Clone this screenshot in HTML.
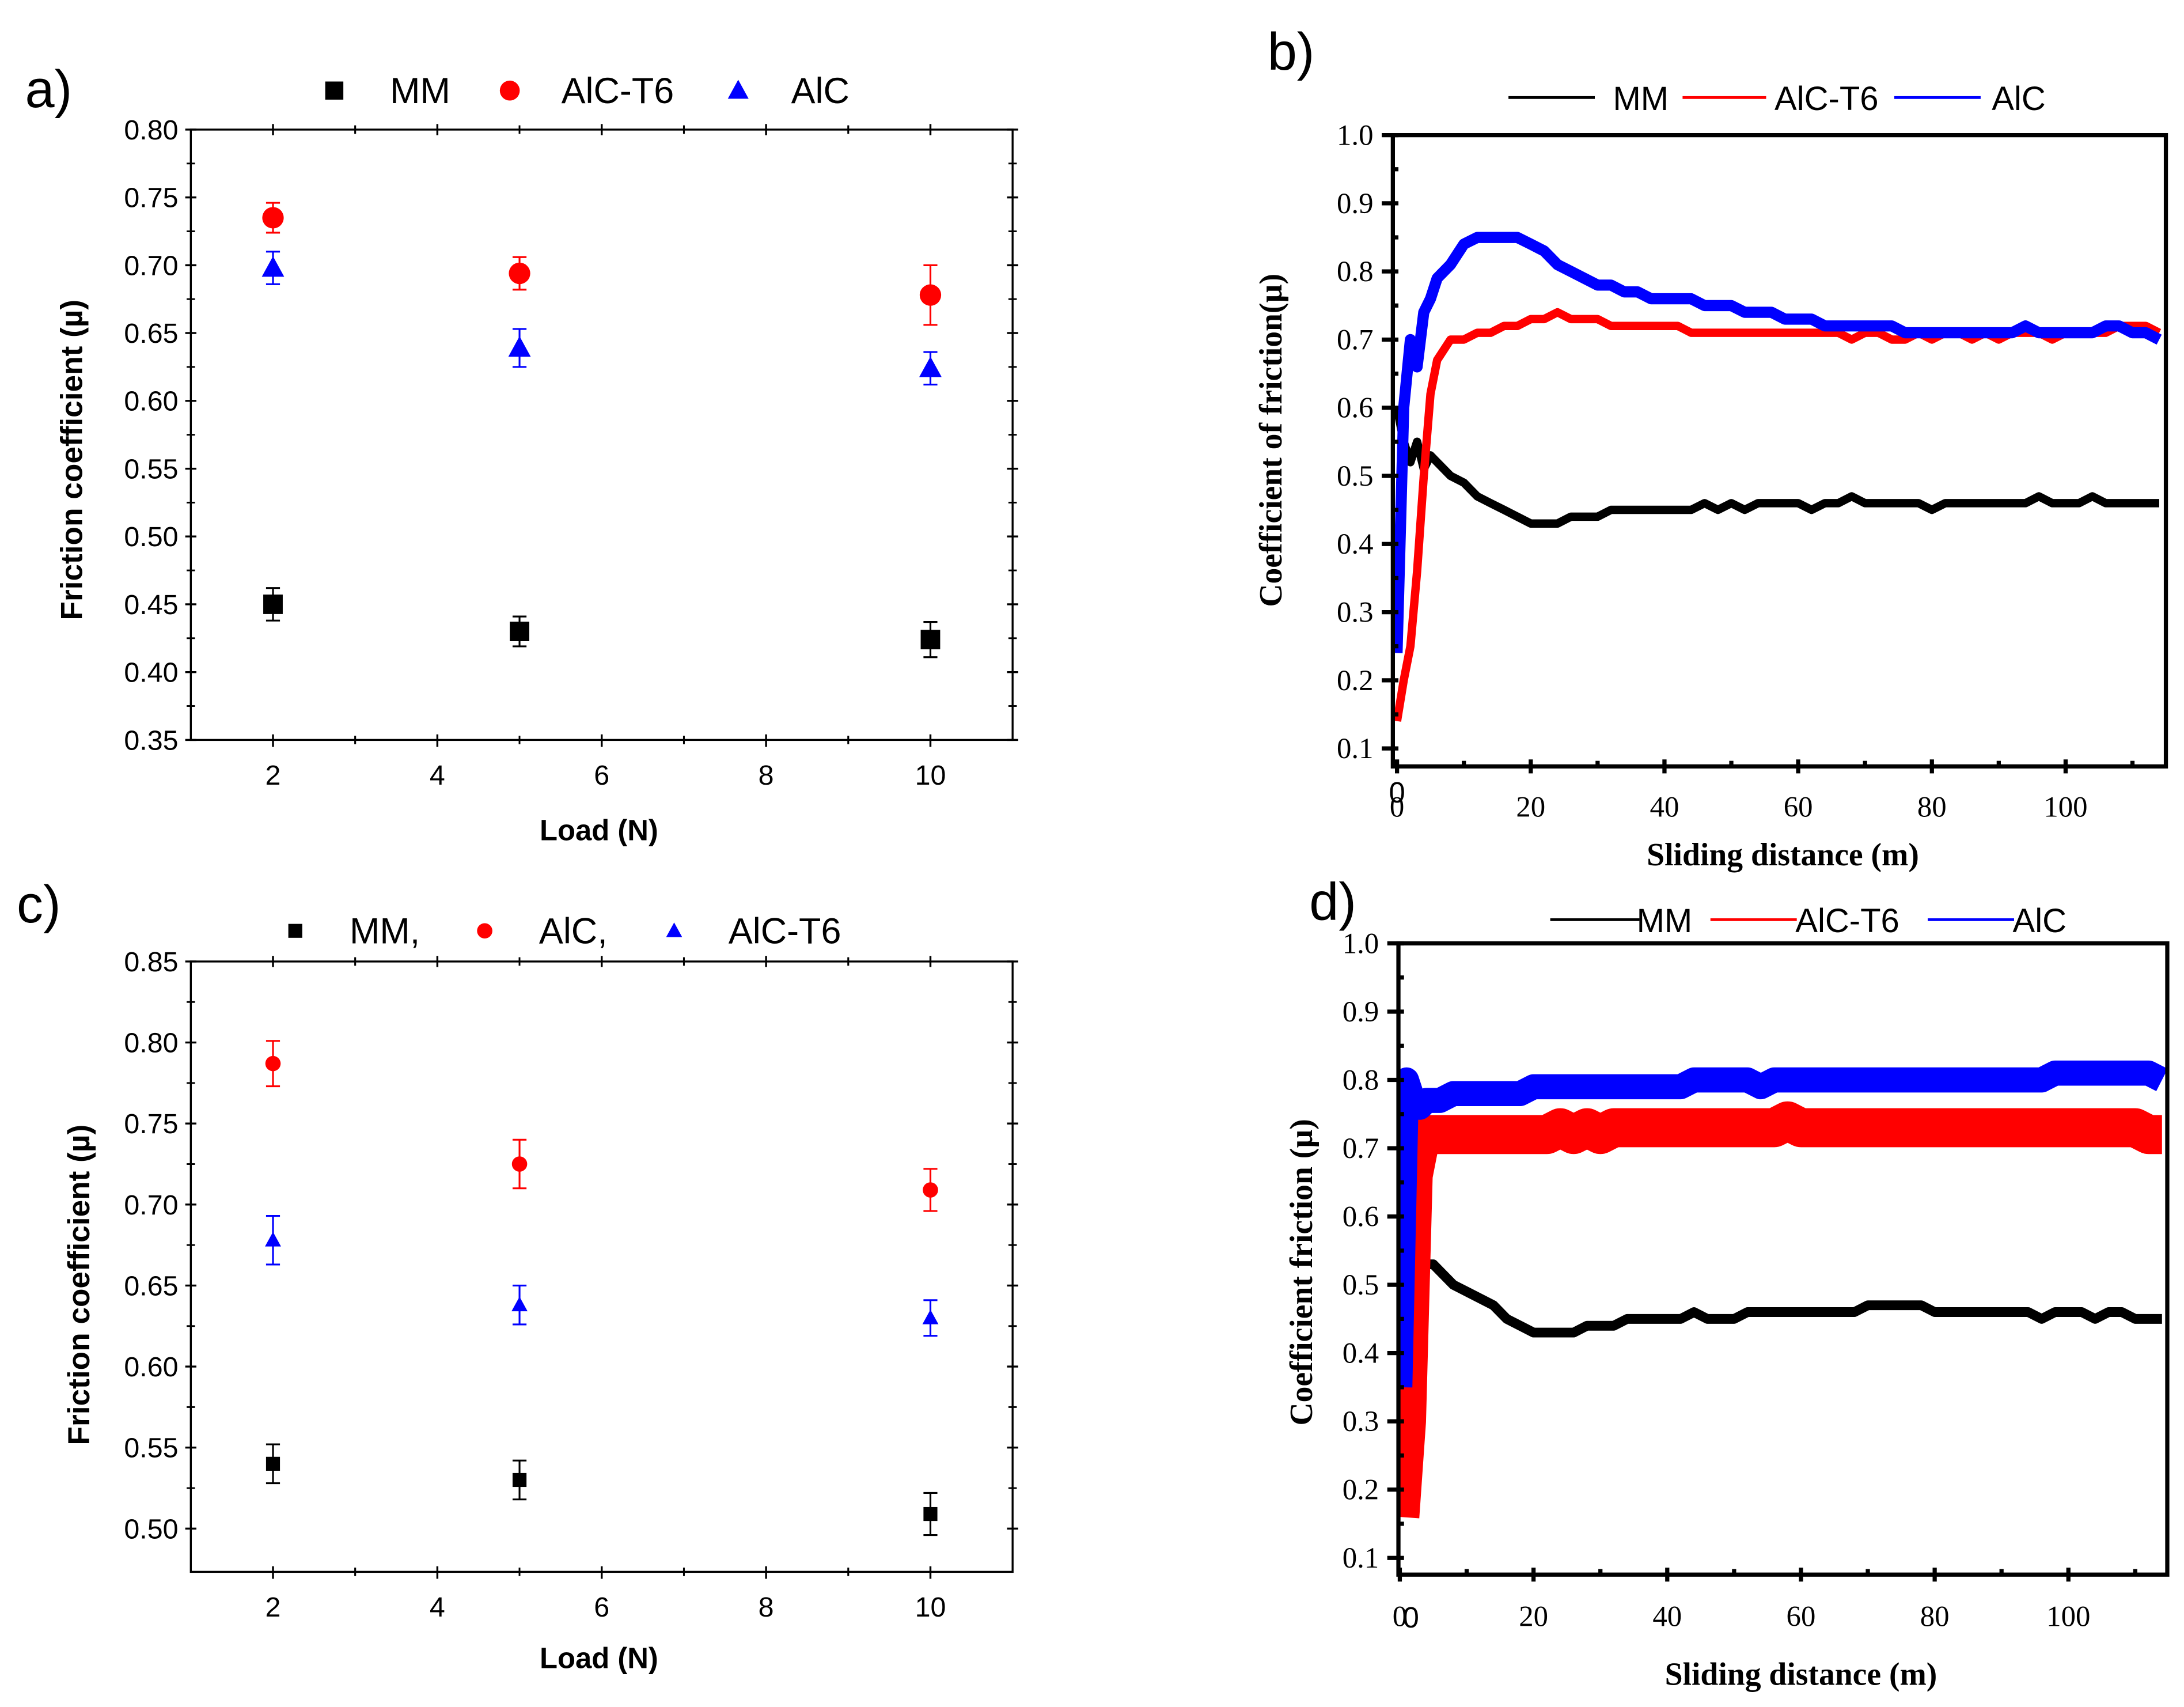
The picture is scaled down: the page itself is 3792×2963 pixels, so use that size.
<!DOCTYPE html>
<html><head><meta charset="utf-8"><style>
html,body{margin:0;padding:0;background:#fff;}
svg{display:block;}
.sans{font-family:"Liberation Sans",sans-serif;}
.serif{font-family:"Liberation Serif",serif;}
</style></head><body>
<svg id="fig" xmlns="http://www.w3.org/2000/svg" width="3792" height="2963" viewBox="0 0 1568 1225" preserveAspectRatio="none">
<rect x="0" y="0" width="1568" height="1225" fill="#fff"/>
</svg>
<script>
// ---- data panel a ----
const aLoads = [2, 5, 10];
const aMM = [0.450, 0.430, 0.424];
const aMMerr = [0.012, 0.011, 0.013];
const aT6 = [0.735, 0.694, 0.678];
const aT6err = [0.011, 0.012, 0.022];
const aAlC = [0.698, 0.639, 0.624];
const aAlCerr = [0.012, 0.014, 0.012];
const aYTicks = ["0.35","0.40","0.45","0.50","0.55","0.60","0.65","0.70","0.75","0.80"];
const abXTicks = ["2","4","6","8","10"];
// ---- data panel c ----
const cLoads = [2, 5, 10];
const cMM = [0.540, 0.530, 0.509];
const cMMerr = [0.012, 0.012, 0.013];
const cAlC = [0.787, 0.725, 0.709];
const cAlCerr = [0.014, 0.015, 0.013];
const cT6 = [0.678, 0.638, 0.630];
const cT6err = [0.015, 0.012, 0.011];
const cYTicks = ["0.50","0.55","0.60","0.65","0.70","0.75","0.80","0.85"];
// ---- data panels b,d ----
const dist = [0,1,2,3,4,5,6,8,10,12,14,16,18,20,22,24,26,28,30,32,34,36,38,40,42,44,46,48,50,52,54,56,58,60,62,64,66,68,70,72,74,76,78,80,82,84,86,88,90,92,94,96,98,100,102,104,106,108,110,112,114];
const bMM = [0.60,0.55,0.52,0.55,0.51,0.53,0.52,0.50,0.49,0.47,0.46,0.45,0.44,0.43,0.43,0.43,0.44,0.44,0.44,0.45,0.45,0.45,0.45,0.45,0.45,0.45,0.46,0.45,0.46,0.45,0.46,0.46,0.46,0.46,0.45,0.46,0.46,0.47,0.46,0.46,0.46,0.46,0.46,0.45,0.46,0.46,0.46,0.46,0.46,0.46,0.46,0.47,0.46,0.46,0.46,0.47,0.46,0.46,0.46,0.46,0.46];
const bT6 = [0.14,0.20,0.25,0.36,0.50,0.62,0.67,0.70,0.70,0.71,0.71,0.72,0.72,0.73,0.73,0.74,0.73,0.73,0.73,0.72,0.72,0.72,0.72,0.72,0.72,0.71,0.71,0.71,0.71,0.71,0.71,0.71,0.71,0.71,0.71,0.71,0.71,0.70,0.71,0.71,0.70,0.70,0.71,0.70,0.71,0.71,0.70,0.71,0.70,0.71,0.71,0.71,0.70,0.71,0.71,0.71,0.71,0.72,0.72,0.72,0.71];
const bAlC = [0.24,0.60,0.70,0.66,0.74,0.76,0.79,0.81,0.84,0.85,0.85,0.85,0.85,0.84,0.83,0.81,0.80,0.79,0.78,0.78,0.77,0.77,0.76,0.76,0.76,0.76,0.75,0.75,0.75,0.74,0.74,0.74,0.73,0.73,0.73,0.72,0.72,0.72,0.72,0.72,0.72,0.71,0.71,0.71,0.71,0.71,0.71,0.71,0.71,0.71,0.72,0.71,0.71,0.71,0.71,0.71,0.72,0.72,0.71,0.71,0.70];
const dMM = [0.60,0.56,0.55,0.54,0.53,0.53,0.52,0.50,0.49,0.48,0.47,0.45,0.44,0.43,0.43,0.43,0.43,0.44,0.44,0.44,0.45,0.45,0.45,0.45,0.45,0.46,0.45,0.45,0.45,0.46,0.46,0.46,0.46,0.46,0.46,0.46,0.46,0.46,0.47,0.47,0.47,0.47,0.47,0.46,0.46,0.46,0.46,0.46,0.46,0.46,0.46,0.45,0.46,0.46,0.46,0.45,0.46,0.46,0.45,0.45,0.45];
const dT6 = [0.16,0.30,0.66,0.71,0.72,0.72,0.72,0.72,0.72,0.72,0.72,0.72,0.72,0.72,0.72,0.73,0.72,0.73,0.72,0.73,0.73,0.73,0.73,0.73,0.73,0.73,0.73,0.73,0.73,0.73,0.73,0.73,0.74,0.73,0.73,0.73,0.73,0.73,0.73,0.73,0.73,0.73,0.73,0.73,0.73,0.73,0.73,0.73,0.73,0.73,0.73,0.73,0.73,0.73,0.73,0.73,0.73,0.73,0.73,0.72,0.72];
const dAlC = [0.35,0.80,0.77,0.76,0.77,0.77,0.77,0.78,0.78,0.78,0.78,0.78,0.78,0.79,0.79,0.79,0.79,0.79,0.79,0.79,0.79,0.79,0.79,0.79,0.79,0.80,0.80,0.80,0.80,0.80,0.79,0.80,0.80,0.80,0.80,0.80,0.80,0.80,0.80,0.80,0.80,0.80,0.80,0.80,0.80,0.80,0.80,0.80,0.80,0.80,0.80,0.80,0.81,0.81,0.81,0.81,0.81,0.81,0.81,0.81,0.80];
const bdYTicks = ["0.1","0.2","0.3","0.4","0.5","0.6","0.7","0.8","0.9","1.0"];
const bdXTicks = ["0","20","40","60","80","100"];

const NS = "http://www.w3.org/2000/svg";
const svg = document.getElementById('fig');
function mk(tag, attrs, parent){
  const e = document.createElementNS(NS, tag);
  for (const k in attrs) e.setAttribute(k, attrs[k]);
  (parent||svg).appendChild(e);
  return e;
}
function txt(s, x, y, size, cls, anchor, weight, parent){
  const t = mk('text', {x:x, y:y, 'font-size':size, 'class':cls, 'text-anchor':anchor||'middle', 'font-weight':weight||'normal'}, parent);
  t.textContent = s;
  return t;
}

// ================= scatter panels (a, c) =================
function scatterPanel(cfg){
  const g = mk('g', {});
  
  
  const xs = v => cfg.x0 + (v - cfg.xmin) / (cfg.xmax - cfg.xmin) * (cfg.x1 - cfg.x0);
  const ys = v => cfg.y1 - (v - cfg.ymin) / (cfg.ymax - cfg.ymin) * (cfg.y1 - cfg.y0);
  const frame = mk('rect', {x:cfg.x0, y:cfg.y0, width:cfg.x1-cfg.x0, height:cfg.y1-cfg.y0, fill:'none', stroke:'#000', 'stroke-width':1.4}, g);
  
  
  cfg.yTicks.forEach(lbl => {
    const v = parseFloat(lbl); const y = ys(v);
    mk('line', {x1:cfg.x0-4, x2:cfg.x0+4, y1:y, y2:y, stroke:'#000', 'stroke-width':1.4}, g);
    mk('line', {x1:cfg.x1-4, x2:cfg.x1+4, y1:y, y2:y, stroke:'#000', 'stroke-width':1.4}, g);
    const m = ys(v + 0.025);
    if (m > cfg.y0 + 1) {
      mk('line', {x1:cfg.x0-3, x2:cfg.x0+3, y1:m, y2:m, stroke:'#000', 'stroke-width':1.2}, g);
      mk('line', {x1:cfg.x1-3, x2:cfg.x1+3, y1:m, y2:m, stroke:'#000', 'stroke-width':1.2}, g);
    }
    const t = txt(lbl, cfg.x0-9, y+7, 20, 'sans', 'end', 'normal', g);
    
    
  });
  abXTicks.forEach(lbl => {
    const v = parseFloat(lbl); const x = xs(v);
    mk('line', {x1:x, x2:x, y1:cfg.y1-4, y2:cfg.y1+5, stroke:'#000', 'stroke-width':1.4}, g);
    mk('line', {x1:x, x2:x, y1:cfg.y0-4, y2:cfg.y0+4, stroke:'#000', 'stroke-width':1.4}, g);
    [v-1, v+1].forEach(mv => { if (mv > cfg.xmin && mv < cfg.xmax) {
      const mx = xs(mv);
      mk('line', {x1:mx, x2:mx, y1:cfg.y1-3, y2:cfg.y1+3, stroke:'#000', 'stroke-width':1.2}, g);
      mk('line', {x1:mx, x2:mx, y1:cfg.y0-3, y2:cfg.y0+3, stroke:'#000', 'stroke-width':1.2}, g);
    }});
    const t = txt(lbl, x, cfg.y1+32, 20, 'sans', 'middle', 'normal', g);
    
    
  });
  const xt = txt('Load (N)', (cfg.x0+cfg.x1)/2 - 2, cfg.xLabelY, 21, 'sans', 'middle', 'bold', g);
  
  
  const yt = txt('Friction coefficient (\u00b5)', 0, 0, 22, 'sans', 'middle', 'bold', g);
  yt.setAttribute('transform', 'translate(' + cfg.yLabelX + ',' + cfg.yLabelY + ') rotate(-90)');
  
  
  cfg.series.forEach(s => {
    const sg = mk('g', {}, g);
    
    
    cfg.loads.forEach((L, i) => {
      const x = xs(L), y = ys(s.vals[i]), e1 = ys(s.vals[i]+s.err[i]), e2 = ys(s.vals[i]-s.err[i]);
      mk('line', {x1:x, x2:x, y1:e1, y2:e2, stroke:s.color, 'stroke-width':1.3}, sg);
      mk('line', {x1:x-5, x2:x+5, y1:e1, y2:e1, stroke:s.color, 'stroke-width':1.3}, sg);
      mk('line', {x1:x-5, x2:x+5, y1:e2, y2:e2, stroke:s.color, 'stroke-width':1.3}, sg);
      const r = cfg.mr;
      let m;
      if (s.shape === 'sq') m = mk('rect', {x:x-r, y:y-r, width:2*r, height:2*r}, sg);
      else if (s.shape === 'ci') m = mk('circle', {cx:x, cy:y, r:r*1.1}, sg);
      else m = mk('polygon', {points:(x)+','+(y-r*1.2)+' '+(x-r*1.15)+','+(y+r*0.9)+' '+(x+r*1.15)+','+(y+r*0.9)}, sg);
      m.setAttribute('fill', s.color);
      
      
    });
  });
  const lg = mk('g', {}, g);
  
  
  cfg.legend.forEach(it => {
    const r = cfg.lr, x = it.mx, y = cfg.legY;
    let m;
    if (it.shape === 'sq') m = mk('rect', {x:x-r, y:y-r, width:2*r, height:2*r}, lg);
    else if (it.shape === 'ci') m = mk('circle', {cx:x, cy:y, r:r*1.1}, lg);
    else m = mk('polygon', {points:x+','+(y-r*1.2)+' '+(x-r*1.15)+','+(y+r*0.9)+' '+(x+r*1.15)+','+(y+r*0.9)}, lg);
    m.setAttribute('fill', it.color);
    
    
    const t = txt(it.label, it.tx, y+9, 26, 'sans', 'start', 'normal', lg);
    
    
  });
}

scatterPanel({name:'panel-a', x0:137, x1:727, y0:93, y1:531, xmin:1, xmax:11, ymin:0.35, ymax:0.80,
  yTicks:aYTicks, loads:aLoads, xLabelY:603, yLabelX:59, yLabelY:330, mr:7, lr:6.5, legY:65,
  series:[{name:'series-mm', vals:aMM, err:aMMerr, color:'#000', shape:'sq'},
          {name:'series-alc-t6', vals:aT6, err:aT6err, color:'#f00', shape:'ci'},
          {name:'series-alc', vals:aAlC, err:aAlCerr, color:'#00f', shape:'tr'}],
  legend:[{mx:240, tx:280, label:'MM', color:'#000', shape:'sq'},
          {mx:366, tx:403, label:'AlC-T6', color:'#f00', shape:'ci'},
          {mx:530, tx:568, label:'AlC', color:'#00f', shape:'tr'}]});

scatterPanel({name:'panel-c', x0:137, x1:727, y0:690, y1:1128, xmin:1, xmax:11, ymin:0.50-31/58.1*0.05, ymax:0.85,
  yTicks:cYTicks, loads:cLoads, xLabelY:1197, yLabelX:64, yLabelY:922, mr:5, lr:5, legY:668,
  series:[{name:'series-mm', vals:cMM, err:cMMerr, color:'#000', shape:'sq'},
          {name:'series-alc', vals:cAlC, err:cAlCerr, color:'#f00', shape:'ci'},
          {name:'series-alc-t6', vals:cT6, err:cT6err, color:'#00f', shape:'tr'}],
  legend:[{mx:212, tx:251, label:'MM,', color:'#000', shape:'sq'},
          {mx:348, tx:387, label:'AlC,', color:'#f00', shape:'ci'},
          {mx:484, tx:523, label:'AlC-T6', color:'#00f', shape:'tr'}]});

// ================= line panels (b, d) =================
function linePanel(cfg){
  const g = mk('g', {});
  
  
  const xs = v => cfg.xz + v * cfg.xper;
  const ys = v => cfg.yone + (1.0 - v) / 0.1 * cfg.yper;
  const clip = mk('clipPath', {id:cfg.name+'-clip'}, g);
  mk('rect', {x:cfg.x0, y:cfg.y0, width:cfg.x1-cfg.x0, height:cfg.y1-cfg.y0}, clip);
  const lines = mk('g', {'clip-path':'url(#'+cfg.name+'-clip)'}, g);
  cfg.series.forEach(s => {
    const pts = dist.map((d, i) => xs(d).toFixed(1) + ',' + ys(s.vals[i]).toFixed(1)).join(' ');
    const pl = mk('polyline', {points:pts, fill:'none', stroke:s.color, 'stroke-width':s.w, 'stroke-linejoin':'round'}, lines);
    
    
  });
  const frame = mk('rect', {x:cfg.x0, y:cfg.y0, width:cfg.x1-cfg.x0, height:cfg.y1-cfg.y0, fill:'none', stroke:'#000', 'stroke-width':3}, g);
  
  
  bdYTicks.forEach(lbl => {
    const v = parseFloat(lbl), y = ys(v);
    mk('line', {x1:cfg.x0-8, x2:cfg.x0+4, y1:y, y2:y, stroke:'#000', 'stroke-width':3}, g);
    const my = ys(v + 0.05);
    if (my > cfg.y0 + 2) mk('line', {x1:cfg.x0, x2:cfg.x0+4, y1:my, y2:my, stroke:'#000', 'stroke-width':3}, g);
    const t = txt(lbl, cfg.x0-14, y+7, 21, 'serif', 'end', 'normal', g);
    
    
  });
  bdXTicks.forEach(lbl => {
    const v = parseFloat(lbl), x = xs(v);
    mk('line', {x1:x, x2:x, y1:cfg.y1-5, y2:cfg.y1+5, stroke:'#000', 'stroke-width':3}, g);
    const mx = xs(v + 10);
    if (mx < cfg.x1 - 2) mk('line', {x1:mx, x2:mx, y1:cfg.y1-4, y2:cfg.y1, stroke:'#000', 'stroke-width':3}, g);
    const t = txt(lbl, x, cfg.y1+cfg.xtOff, 21, 'serif', 'middle', 'normal', g);
    
    
  });
  const z = txt('0', cfg.zeroX, cfg.zeroY, 21, 'sans', 'middle', 'normal', g);
  
  
  const xt = txt('Sliding distance (m)', cfg.xLabelX, cfg.xLabelY, 23, 'serif', 'middle', 'bold', g);
  
  
  const yt = txt(cfg.yTitle, 0, 0, 23, 'serif', 'middle', 'bold', g);
  yt.setAttribute('transform', 'translate(' + cfg.yLabelX + ',' + cfg.yLabelY + ') rotate(-90)');
  
  
  const lg = mk('g', {}, g);
  
  
  cfg.legend.forEach(it => {
    const l = mk('line', {x1:it.l0, x2:it.l1, y1:cfg.legY, y2:cfg.legY, stroke:it.color, 'stroke-width':2}, lg);
    
    
    const t = txt(it.label, it.tx, cfg.legY+9, 24, 'sans', 'start', 'normal', lg);
    
    
  });
}

linePanel({name:'panel-b', x0:1000, x1:1555, y0:97, y1:550, xz:1003, xper:4.8, yone:97, yper:48.9,
  xtOff:36, zeroX:1003, zeroY:576, xLabelX:1280, xLabelY:621, yLabelX:920, yLabelY:316,
  yTitle:'Coefficient of friction(\u00b5)', legY:70,
  series:[{name:'series-mm', vals:bMM, color:'#000', w:6},
          {name:'series-alc-t6', vals:bT6, color:'#f00', w:6},
          {name:'series-alc', vals:bAlC, color:'#00f', w:8}],
  legend:[{l0:1083, l1:1145, tx:1158, label:'MM', color:'#000'},
          {l0:1208, l1:1268, tx:1274, label:'AlC-T6', color:'#f00'},
          {l0:1360, l1:1422, tx:1430, label:'AlC', color:'#00f'}]});

linePanel({name:'panel-d', x0:1004, x1:1556, y0:677, y1:1130, xz:1005, xper:4.8, yone:677, yper:49,
  xtOff:37, zeroX:1013, zeroY:1168, xLabelX:1293, xLabelY:1209, yLabelX:942, yLabelY:913,
  yTitle:'Coefficient friction (\u00b5)', legY:660,
  series:[{name:'series-mm', vals:dMM, color:'#000', w:7},
          {name:'series-alc-t6', vals:dT6, color:'#f00', w:28},
          {name:'series-alc', vals:dAlC, color:'#00f', w:18}],
  legend:[{l0:1113, l1:1177, tx:1175, label:'MM', color:'#000'},
          {l0:1228, l1:1290, tx:1289, label:'AlC-T6', color:'#f00'},
          {l0:1384, l1:1446, tx:1445, label:'AlC', color:'#00f'}]});

[['a)',18,77],['b)',910,50],['c)',12,662],['d)',940,660]].forEach(p => {
  const t = txt(p[0], p[1], p[2], 38, 'sans', 'start', 'normal');
  
  
});
</script>
</body></html>
